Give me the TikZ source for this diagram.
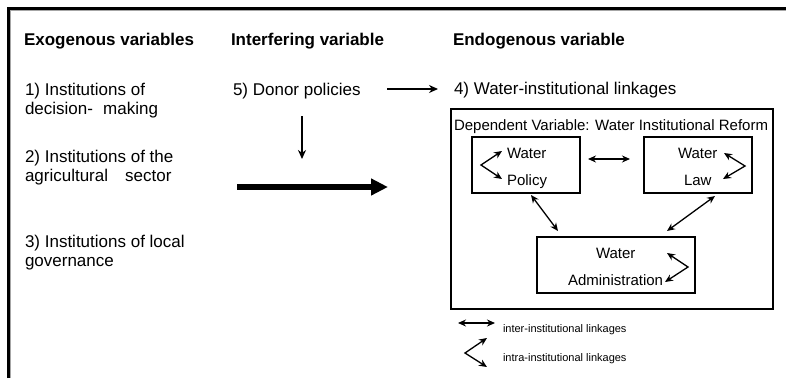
\documentclass[tikz,border=0pt]{standalone}
\usepackage{fontspec}
\setmainfont{Liberation Sans}
\usetikzlibrary{arrows.meta}
\begin{document}
\begin{tikzpicture}[x=1pt,y=-1pt,
  every node/.style={inner sep=0pt, outer sep=0pt},
  heading/.style={anchor=base west, font=\fontsize{17}{20}\selectfont\bfseries},
  txt/.style={anchor=base west, font=\fontsize{17}{20}\selectfont},
  boxtxt/.style={anchor=base west, font=\fontsize{15}{18}\selectfont},
  legendtxt/.style={anchor=base west, font=\fontsize{11}{13}\selectfont},
  frame/.style={draw, line width=2pt},
  instbox/.style={draw, line width=1.2pt},
  link/.style={{Stealth[length=8pt,width=7pt]}-{Stealth[length=8pt,width=7pt]}, line width=1.3pt},
  oneway/.style={-{Stealth[length=9pt,width=8pt]}, line width=1.7pt},
  bigarrow/.style={-{Triangle[length=17pt,width=16pt]}, line width=5.5pt},
]
\useasboundingbox (0,0) rectangle (786,378);
\fill[white] (0,0) rectangle (786,378);

% page frame (left and top edges only)
\draw[black!35, line width=1pt] (10.5,378) -- (10.5,10.5) -- (786,10.5);
\draw[line width=3pt] (8,378) -- (8,8) -- (786,8);

% column headings
\node[heading] (hexo) at (24,45) {Exogenous variables};
\node[heading] (hint) at (231,45) {Interfering variable};
\node[heading] (hend) at (453,45) {Endogenous variable};

% exogenous variables
\node[txt] (e1a) at (25,95) {1) Institutions of};
\node[txt] (e1b) at (25,114) {decision-\hspace{0.6em}making};
\node[txt] (e2a) at (25,162) {2) Institutions of the};
\node[txt] (e2b) at (25,181) {agricultural\hspace{1em}sector};
\node[txt] (e3a) at (25,247) {3) Institutions of local};
\node[txt] (e3b) at (25,266) {governance};

% interfering variable
\node[txt] (donor) at (233,95) {5) Donor policies};
\coordinate (donorR) at (387,89);
\coordinate (linkL) at (438,89);
\draw[oneway] (donorR) -- (linkL);
\coordinate (downA) at (302,116);
\coordinate (downB) at (302,159);
\draw[oneway] (downA) -- (downB);
\coordinate (thickA) at (237,187);
\coordinate (thickB) at (388,187);
\draw[bigarrow] (thickA) -- (thickB);

% endogenous variable
\node[txt] (linkages) at (454,94) {4) Water-institutional linkages};
\node[frame, minimum width=322pt, minimum height=200pt] (reform) at (612,209) {};
\node[boxtxt] (reformlbl) at (454,130) {Dependent Variable: Water Institutional Reform};

% institution boxes
\node[instbox, minimum width=108pt, minimum height=56pt] (policy) at (526,165) {};
\node[instbox, minimum width=108pt, minimum height=56pt] (law) at (698,165) {};
\node[instbox, minimum width=158pt, minimum height=56pt] (admin) at (616,265) {};

\node[boxtxt] (policy1) at (507,158) {Water};
\node[boxtxt] (policy2) at (507,185) {Policy};
\node[boxtxt] (law1) at (678,158) {Water};
\node[boxtxt] (law2) at (684,185) {Law};
\node[boxtxt] (admin1) at (596,258) {Water};
\node[boxtxt] (admin2) at (568,285) {Administration};

% intra-institutional linkages
\coordinate (pA) at (502,151); \coordinate (pV) at (481,165); \coordinate (pB) at (502,179);
\draw[link] (pA) -- (pV) -- (pB);
\coordinate (lA) at (724,153); \coordinate (lV) at (745,166); \coordinate (lB) at (723,179);
\draw[link] (lA) -- (lV) -- (lB);
\coordinate (aA) at (667,253); \coordinate (aV) at (688,267); \coordinate (aB) at (665,282);
\draw[link] (aA) -- (aV) -- (aB);

% inter-institutional linkages
\coordinate (plA) at (588,159); \coordinate (plB) at (630,159);
\draw[link] (plA) -- (plB);
\coordinate (paA) at (531,195); \coordinate (paB) at (558,231);
\draw[link] (paA) -- (paB);
\coordinate (laA) at (715,196); \coordinate (laB) at (667,231);
\draw[link] (laA) -- (laB);

% legend
\coordinate (gA) at (458,323); \coordinate (gB) at (495,323);
\draw[link] (gA) -- (gB);
\node[legendtxt] (gtxt1) at (503,332) {inter-institutional linkages};
\coordinate (hA) at (487,338); \coordinate (hV) at (465,353); \coordinate (hB) at (487,367);
\draw[link] (hA) -- (hV) -- (hB);
\node[legendtxt] (gtxt2) at (503,361) {intra-institutional linkages};
\end{tikzpicture}
\end{document}
